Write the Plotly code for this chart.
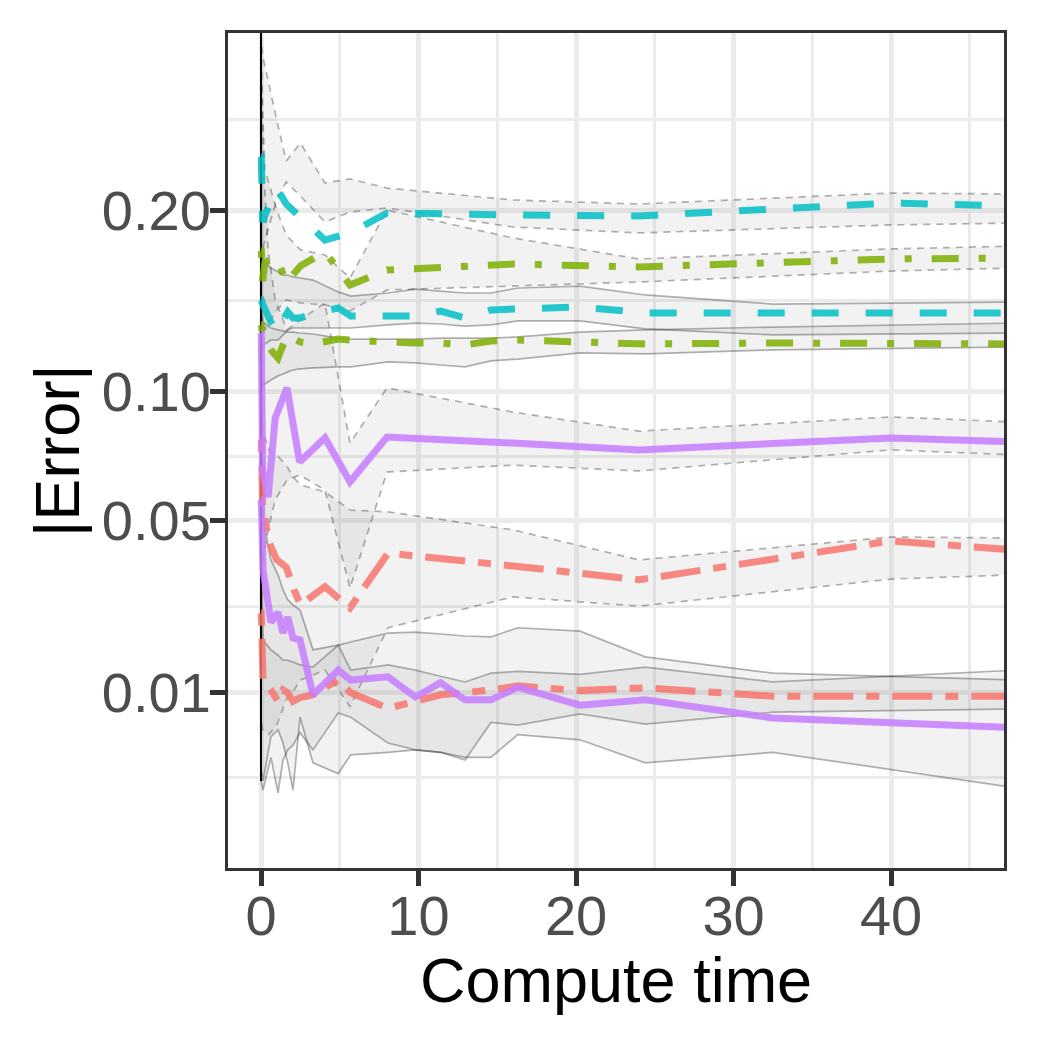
import numpy as np
import plotly.graph_objects as go

# ---------------- data ----------------
# compute-time grids (the first three points form the dense burst right at t = 0)
X_C_HI = [0.0, 0.004, 0.008, 0.02, 0.1, 0.25, 1.0, 1.6, 2.5, 4.06, 5.65, 8.0, 16, 24, 40, 48]
X_G_HI = [0.0, 0.004, 0.008, 0.02, 0.1, 0.25, 1.0, 1.6, 2.5, 4.06, 5.65, 8.0, 16, 24, 40, 48]
X_P_HI = [0.0, 0.004, 0.008, 0.02, 0.1, 0.45, 0.9, 1.65, 2.45, 4.06, 5.65, 8.0, 16, 24, 40, 48]
X_R_HI = [0.0, 0.004, 0.008, 0.02, 0.1, 0.5, 1.0, 1.6, 2.1, 2.5, 4.06, 5.65, 8.06, 16, 24, 40, 48]
X_LOW = [0.0, 0.004, 0.008, 0.02, 0.13, 0.63, 1.08, 1.4, 1.7, 2.03, 2.48, 3.3, 4.9, 5.7, 8.06,
         9.8, 11.4, 12.95, 14.6, 16.3, 20.25, 24.4, 32.5, 48]

# cyan, upper group
C_HI_MEAN = [0.2356, 0.2356, 0.2356, 0.2356, 0.1923, 0.1968, 0.2144, 0.2039, 0.1955, 0.1811, 0.1855, 0.1981, 0.1968, 0.1962, 0.2045, 0.2026]
C_HI_UP = [0.3300, 0.0013, 0.3300, 0.3245, 0.3123, 0.3036, 0.2622, 0.2328, 0.2455, 0.2178, 0.2205, 0.2144, 0.2065, 0.2039, 0.2111, 0.2104]
C_HI_LO = [0.0013, 0.3300, 0.0013, 0.1691, 0.1751, 0.1811, 0.2065, 0.2185, 0.2091, 0.1923, 0.1987, 0.2013, 0.1892, 0.1855, 0.1905, 0.1917]

# green, upper group
G_HI_MEAN = [0.1745, 0.1745, 0.1745, 0.1745, 0.1569, 0.1679, 0.1709, 0.1557, 0.1656, 0.1739, 0.1546, 0.1632, 0.1667, 0.1650, 0.1697, 0.1703]
G_HI_UP = [0.3300, 0.0013, 0.3300, 0.3083, 0.2696, 0.2266, 0.2000, 0.1842, 0.1751, 0.1721, 0.1586, 0.2000, 0.1824, 0.1697, 0.1757, 0.1775]
G_HI_LO = [0.0013, 0.3300, 0.0013, 0.1462, 0.1354, 0.1302, 0.1408, 0.1462, 0.1446, 0.1435, 0.1402, 0.1518, 0.1540, 0.1563, 0.1626, 0.1644]

# purple, upper group
P_HI_MEAN = [0.1286, 0.1286, 0.1286, 0.1286, 0.0676, 0.0578, 0.0884, 0.1018, 0.0706, 0.0801, 0.0632, 0.0805, 0.0780, 0.0753, 0.0801, 0.0785]
P_HI_UP = [0.3300, 0.0013, 0.3300, 0.3083, 0.2405, 0.1751, 0.1462, 0.1302, 0.1354, 0.1446, 0.0780, 0.1018, 0.0910, 0.0829, 0.0889, 0.0867]
P_HI_LO = [0.0013, 0.3300, 0.0013, 0.0381, 0.0381, 0.0470, 0.0568, 0.0639, 0.0657, 0.0603, 0.0306, 0.0668, 0.0694, 0.0672, 0.0753, 0.0733]

# red, upper group
R_HI_MEAN = [0.0793, 0.0793, 0.0793, 0.0793, 0.0551, 0.0433, 0.0381, 0.0361, 0.0301, 0.0265, 0.0309, 0.0258, 0.0400, 0.0364, 0.0327, 0.0436, 0.0409]
R_HI_UP = [0.3300, 0.0013, 0.3300, 0.0963, 0.0834, 0.0753, 0.0733, 0.0694, 0.0646, 0.0621, 0.0596, 0.0534, 0.0528, 0.0470, 0.0381, 0.0448, 0.0445]
R_HI_LO = [0.0013, 0.3300, 0.0013, 0.0064, 0.0053, 0.0048, 0.0058, 0.0089, 0.0103, 0.0118, 0.0134, 0.0080, 0.0214, 0.0284, 0.0262, 0.0329, 0.0340]

# cyan, lower group
C_LO_MEAN = [0.1462, 0.1462, 0.1462, 0.1462, 0.1435, 0.1343, 0.1286, 0.1354, 0.1397, 0.1365, 0.1365, 0.1386, 0.1419, 0.1375, 0.1375,
             0.1375, 0.1402, 0.1365, 0.1408, 0.1413, 0.1424, 0.1392, 0.1392, 0.1392]
C_LO_UP = [0.3300, 0.0013, 0.3300, 0.1751, 0.1691, 0.1644, 0.1620, 0.1603, 0.1603, 0.1592, 0.1586, 0.1574, 0.1507, 0.1484, 0.1501,
           0.1523, 0.1512, 0.1501, 0.1501, 0.1529, 0.1540, 0.1490, 0.1440, 0.1451]
C_LO_LO = [0.0013, 0.3300, 0.0013, 0.1200, 0.1225, 0.1250, 0.1250, 0.1276, 0.1302, 0.1312, 0.1312, 0.1312, 0.1312, 0.1312, 0.1328,
           0.1338, 0.1333, 0.1322, 0.1328, 0.1349, 0.1349, 0.1307, 0.1276, 0.1286]

# green, lower group
G_LO_MEAN = [0.1328, 0.1328, 0.1328, 0.1328, 0.1260, 0.1200, 0.1160, 0.1225, 0.1276, 0.1260, 0.1240, 0.1230, 0.1255, 0.1250, 0.1240,
             0.1235, 0.1235, 0.1225, 0.1245, 0.1250, 0.1240, 0.1230, 0.1235, 0.1230]
G_LO_UP = [0.3300, 0.0013, 0.3300, 0.1381, 0.1343, 0.1312, 0.1302, 0.1297, 0.1291, 0.1291, 0.1286, 0.1281, 0.1260, 0.1255, 0.1255,
           0.1255, 0.1260, 0.1260, 0.1260, 0.1266, 0.1291, 0.1302, 0.1317, 0.1338]
G_LO_LO = [0.0013, 0.3300, 0.0013, 0.1055, 0.1031, 0.1055, 0.1074, 0.1083, 0.1093, 0.1102, 0.1107, 0.1112, 0.1117, 0.1117, 0.1141,
           0.1136, 0.1126, 0.1117, 0.1146, 0.1155, 0.1185, 0.1180, 0.1200, 0.1215]

# red, lower group
R_LO_MEAN = [0.0246, 0.0246, 0.0246, 0.0246, 0.0118, 0.0103, 0.0087, 0.0103, 0.0099, 0.0087, 0.0092, 0.0096, 0.0118, 0.0099, 0.0078,
             0.0087, 0.0096, 0.0099, 0.0103, 0.0109, 0.0102, 0.0106, 0.0094, 0.0094]
R_LO_UP = [0.3300, 0.0013, 0.3300, 0.0381, 0.0189, 0.0170, 0.0160, 0.0151, 0.0151, 0.0148, 0.0143, 0.0139, 0.0179, 0.0134, 0.0143,
           0.0134, 0.0124, 0.0115, 0.0129, 0.0132, 0.0127, 0.0139, 0.0115, 0.0134]
R_LO_LO = [0.0013, 0.3300, 0.0013, 0.0012, 0.00086, 0.0028, 0.00075, 0.0026, 0.0034, 0.0038, 0.0050, 0.0034, 0.0072, 0.0067, 0.0040,
           0.0034, 0.0032, 0.0026, 0.0061, 0.0058, 0.0071, 0.0059, 0.0073, 0.0077]

# purple, lower group
P_LO_MEAN = [0.0568, 0.0568, 0.0568, 0.0568, 0.0353, 0.0226, 0.0248, 0.0203, 0.0237, 0.0193, 0.0189, 0.0096, 0.0134, 0.0118, 0.0123,
             0.0093, 0.0114, 0.0089, 0.0089, 0.0107, 0.0082, 0.0089, 0.0066, 0.0055]
P_LO_UP = [0.3300, 0.0013, 0.3300, 0.0963, 0.0501, 0.0381, 0.0340, 0.0301, 0.0277, 0.0265, 0.0253, 0.0170, 0.0179, 0.0185, 0.0203,
           0.0205, 0.0201, 0.0197, 0.0195, 0.0214, 0.0207, 0.0157, 0.0129, 0.0118]
P_LO_LO = [0.0013, 0.3300, 0.0013, 0.0019, 0.0013, 0.0046, 0.0053, 0.0040, 0.0024, 0.00086, 0.0067, 0.0024, 0.0017, 0.0030, 0.0032,
           0.0034, 0.0032, 0.0028, 0.0028, 0.0048, 0.0043, 0.0024, 0.0032, 0.00095]

Y_TICKS = [0.01, 0.05, 0.10, 0.20]
Y_TICK_TEXT = ["0.01", "0.05", "0.10", "0.20"]
X_TICKS = [0, 10, 20, 30, 40]
X_MINOR = [5, 15, 25, 35, 45]

# ---------------- styling ----------------
RED = "rgba(248,118,109,0.85)"
GREEN = "rgba(124,174,0,0.85)"
CYAN = "rgba(0,191,196,0.85)"
PURPLE = "rgba(199,124,255,0.85)"
LW = 7
DASHED = "27px,27px"
DOTDASH = "7px,20px,27px,20px"
TWODASH = "13px,13px,40px,13px"

series = [
    # x, mean, lo, hi, color, dash, band-dash
    (X_R_HI, R_HI_MEAN, R_HI_LO, R_HI_UP, RED, TWODASH, "7px,6px"),
    (X_G_HI, G_HI_MEAN, G_HI_LO, G_HI_UP, GREEN, DOTDASH, "7px,6px"),
    (X_C_HI, C_HI_MEAN, C_HI_LO, C_HI_UP, CYAN, DASHED, "7px,6px"),
    (X_P_HI, P_HI_MEAN, P_HI_LO, P_HI_UP, PURPLE, "solid", "7px,6px"),
    (X_LOW, R_LO_MEAN, R_LO_LO, R_LO_UP, RED, TWODASH, "solid"),
    (X_LOW, G_LO_MEAN, G_LO_LO, G_LO_UP, GREEN, DOTDASH, "solid"),
    (X_LOW, C_LO_MEAN, C_LO_LO, C_LO_UP, CYAN, DASHED, "solid"),
    (X_LOW, P_LO_MEAN, P_LO_LO, P_LO_UP, PURPLE, "solid", "solid"),
]


def tr(v):
    return np.sqrt(np.asarray(v, dtype=float))


fig = go.Figure()

BAND_FILL = "rgba(127,127,127,0.10)"
BAND_LINE = "rgba(0,0,0,0.30)"

for x, m, lo, hi, col, dash, bdash in series:
    xs = list(x) + list(x)[::-1]
    ys = list(tr(hi)) + list(tr(lo))[::-1]
    fig.add_trace(go.Scatter(x=xs, y=ys, mode="lines", fill="toself",
                             fillcolor=BAND_FILL, line=dict(width=0, simplify=False),
                             hoverinfo="skip", showlegend=False))
    for b in (lo, hi):
        fig.add_trace(go.Scatter(x=x, y=tr(b), mode="lines",
                                 line=dict(color=BAND_LINE, width=1.7, dash=bdash,
                                           simplify=False),
                                 hoverinfo="skip", showlegend=False))

for x, m, lo, hi, col, dash, bdash in series:
    fig.add_trace(go.Scatter(x=x, y=tr(m), mode="lines",
                             line=dict(color=col, width=LW, dash=dash, simplify=False),
                             showlegend=False))

FONT = "Liberation Sans, Arial, Helvetica, sans-serif"
axis_common = dict(
    showline=True, linecolor="#333333", linewidth=3, mirror=True,
    ticks="outside", ticklen=15, tickwidth=5, tickcolor="#333333",
    showgrid=True, gridcolor="#EBEBEB", gridwidth=5,
    zeroline=False,
    tickfont=dict(family=FONT, size=56, color="#4D4D4D"),
)

# the page body adds an 8px offset, so the figure is 1030 px and margins are shifted
fig.update_layout(
    width=1030, height=1030,
    margin=dict(l=220, r=34, t=25, b=170, autoexpand=False),
    paper_bgcolor="white", plot_bgcolor="white",
    showlegend=False,
    xaxis=dict(range=[-2.095, 47.17], tickmode="array", tickvals=X_TICKS,
               ticktext=[str(t) for t in X_TICKS],
               minor=dict(tickvals=X_MINOR, showgrid=True, gridcolor="#EBEBEB",
                          gridwidth=2.5, ticks=""),
               ticklabelstandoff=-18,
               **axis_common),
    yaxis=dict(range=[-0.02678, 0.57472], tickmode="array",
               tickvals=list(tr(Y_TICKS)), ticktext=Y_TICK_TEXT,
               minor=dict(tickvals=[0.03820, 0.16180, 0.26992, 0.38172, 0.51271],
                          showgrid=True, gridcolor="#EBEBEB", gridwidth=2.5, ticks=""),
               ticklabelstandoff=-12,
               **axis_common),
    annotations=[
        dict(text="Compute time", xref="paper", yref="paper", x=0.5, y=-0.090,
             xanchor="center", yanchor="top", showarrow=False,
             font=dict(family=FONT, size=63, color="black")),
        dict(text="|Error|", xref="paper", yref="paper", x=-0.221, y=0.5,
             xanchor="center", yanchor="middle", showarrow=False, textangle=-90,
             font=dict(family=FONT, size=63, color="black")),
    ],
)

fig.write_html("out.html")
